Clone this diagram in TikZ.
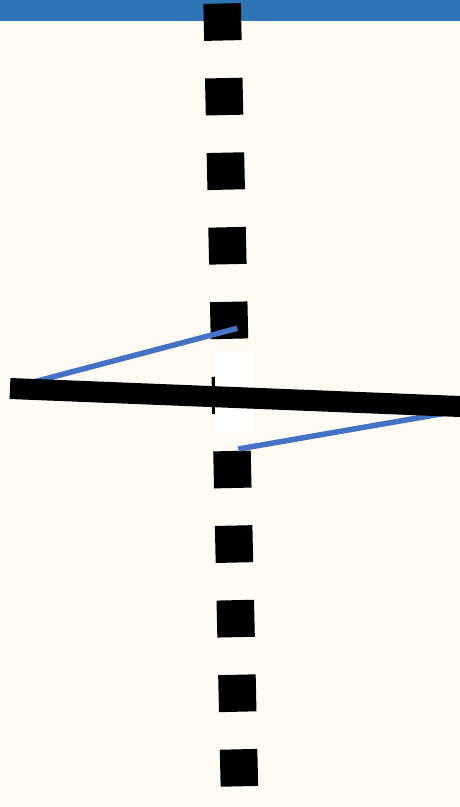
\documentclass[tikz,border=0pt]{standalone}
\definecolor{bg}{HTML}{FFFBF3}
\definecolor{band}{HTML}{2E75B5}
\definecolor{wire}{HTML}{4472C4}
\begin{document}
\begin{tikzpicture}[x=1pt,y=-1pt,
  dashcol/.style={line width=37.5pt, dash pattern=on 37pt off 37.6pt, black},
  wireline/.style={wire, line width=5.5pt},
  barline/.style={black, line width=21pt},
  tickline/.style={black, line width=2pt}]
\useasboundingbox (0,0) rectangle (460,807);
\clip (0,0) rectangle (460,807);
\fill[bg] (0,0) rectangle (460,807);
\fill[band] (0,0) rectangle (460,21);
\coordinate (dtop) at (222.09,3.5);
\coordinate (dbot) at (239.9,810);
\draw[dashcol] (dtop) -- (dbot);
\fill[white] (215,351) rectangle (254,431.5);
\coordinate (w1a) at (237.3,328.3);
\coordinate (w1b) at (22,385);
\coordinate (w2a) at (238.3,449);
\coordinate (w2b) at (452,412);
\draw[wireline] (w1a) -- (w1b);
\draw[wireline] (w2a) -- (w2b);
\coordinate (bl) at (10,388.5);
\coordinate (br) at (470,406.9);
\draw[barline] (bl) -- (br);
\coordinate (ta) at (213.3,376.7);
\coordinate (tb) at (213.3,414.3);
\draw[tickline] (ta) -- (tb);
\end{tikzpicture}
\end{document}
